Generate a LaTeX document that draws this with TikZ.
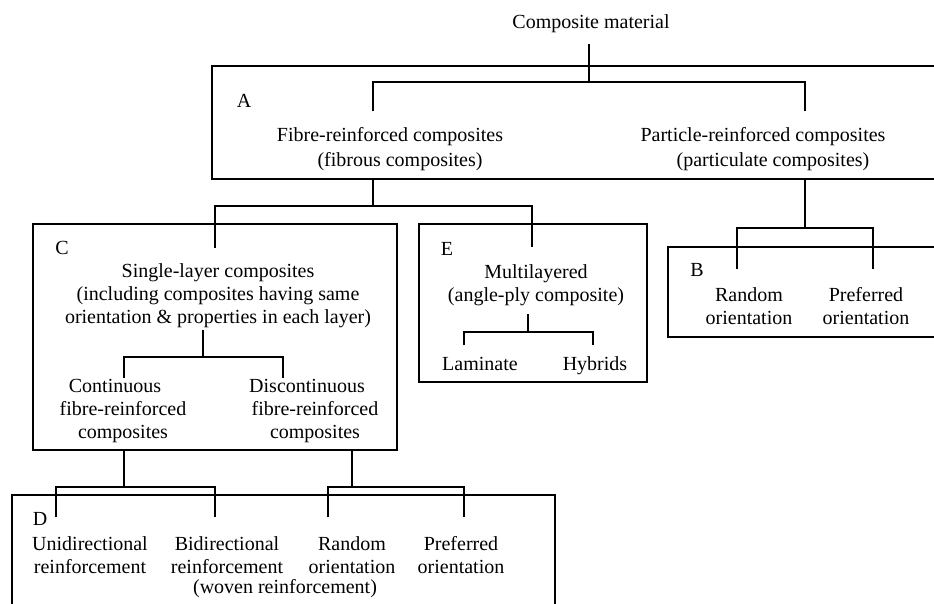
\documentclass[tikz,border=0pt]{standalone}
\usepackage{fontspec}
\setmainfont{Liberation Serif}
\begin{document}
\begin{tikzpicture}[x=1pt,y=-1pt,line width=1.8pt,
  lbl/.style={font=\fontsize{20}{23}\selectfont,inner sep=0pt,align=center},
  frame/.style={draw,line width=1.8pt},
  link/.style={draw,line width=1.8pt}]
\clip (0,0) rectangle (934,603);
\fill[white] (0,0) rectangle (934,603);

% frames
\draw[frame] (212,66) rectangle (945,179);   % A
\draw[frame] (33,224) rectangle (397,450);   % C
\draw[frame] (419,224) rectangle (647,382);  % E
\draw[frame] (668,247) rectangle (945,337);  % B
\draw[frame] (12,495) rectangle (555,615);   % D

% texts
\node[lbl] (title) at (591,24) {Composite material};
\node[lbl] (labA) at (244,101) {A};
\node[lbl,font=\fontsize{20}{25}\selectfont] (fibre) at (390,149) {Fibre-reinforced composites\\\hspace*{20pt}(fibrous composites)};
\node[lbl,font=\fontsize{20}{25}\selectfont] (particle) at (763,149) {Particle-reinforced composites\\\hspace*{20pt}(particulate composites)};
\node[lbl] (labC) at (62,248) {C};
\node[lbl] (single) at (218,296) {Single-layer composites\\(including composites having same\\orientation \& properties in each layer)};
\node[lbl] (cont) at (123,411) {Continuous\hspace*{16pt}\\fibre-reinforced\\composites};
\node[lbl] (disc) at (315,411) {Discontinuous\hspace*{16pt}\\fibre-reinforced\\composites};
\node[lbl] (labE) at (447,249) {E};
\node[lbl] (multi) at (536,285) {Multilayered\\(angle-ply composite)};
\node[lbl,anchor=base] (lam) at (480,370) {Laminate};
\node[lbl,anchor=base] (hyb) at (595,370) {Hybrids};
\node[lbl] (labB) at (697,270) {B};
\node[lbl] (brand) at (749,306) {Random\\orientation};
\node[lbl] (bpref) at (866,306) {Preferred\\orientation};
\node[lbl] (labD) at (40,519) {D};
\node[lbl] (uni) at (90,555) {Unidirectional\\reinforcement};
\node[lbl] (bi) at (227,555) {Bidirectional\\reinforcement};
\node[lbl] (woven) at (285,589) {(woven reinforcement)};
\node[lbl] (drand) at (352,555) {Random\\orientation};
\node[lbl] (dpref) at (461,555) {Preferred\\orientation};

% junction coordinates
\coordinate (t0) at (589,44);
\coordinate (t1) at (589,82);
\coordinate (f0) at (373,82);
\coordinate (f1) at (373,111);
\coordinate (p0) at (805,82);
\coordinate (p1) at (805,111);

\coordinate (f2) at (373,179);
\coordinate (f3) at (373,206);
\coordinate (c0) at (215,206);
\coordinate (c1) at (215,248);
\coordinate (e0) at (532,206);
\coordinate (e1) at (532,247);

\coordinate (p2) at (805,179);
\coordinate (p3) at (805,228);
\coordinate (br0) at (737,228);
\coordinate (br1) at (737,269);
\coordinate (bp0) at (873,228);
\coordinate (bp1) at (873,269);

\coordinate (s0) at (203,330);
\coordinate (s1) at (203,357);
\coordinate (ct0) at (124,357);
\coordinate (ct1) at (124,378);
\coordinate (ds0) at (283,357);
\coordinate (ds1) at (283,378);

\coordinate (m0) at (528,314);
\coordinate (m1) at (528,332);
\coordinate (l0) at (464,332);
\coordinate (l1) at (464,345);
\coordinate (h0) at (593,332);
\coordinate (h1) at (593,345);

\coordinate (cb0) at (124,450);
\coordinate (cb1) at (124,487);
\coordinate (u0) at (56,487);
\coordinate (u1) at (56,517);
\coordinate (b0) at (215,487);
\coordinate (b1) at (215,517);

\coordinate (db0) at (352,450);
\coordinate (db1) at (352,487);
\coordinate (r0) at (328,487);
\coordinate (r1) at (328,517);
\coordinate (q0) at (464,487);
\coordinate (q1) at (464,517);

% connectors
\draw[link] (t0) -- (t1);
\draw[link] (f1) -- (f0) -- (p0) -- (p1);
\draw[link] (f2) -- (f3);
\draw[link] (c1) -- (c0) -- (e0) -- (e1);
\draw[link] (p2) -- (p3);
\draw[link] (br1) -- (br0) -- (bp0) -- (bp1);
\draw[link] (s0) -- (s1);
\draw[link] (ct1) -- (ct0) -- (ds0) -- (ds1);
\draw[link] (m0) -- (m1);
\draw[link] (l1) -- (l0) -- (h0) -- (h1);
\draw[link] (cb0) -- (cb1);
\draw[link] (u1) -- (u0) -- (b0) -- (b1);
\draw[link] (db0) -- (db1);
\draw[link] (r1) -- (r0) -- (q0) -- (q1);
\end{tikzpicture}
\end{document}
